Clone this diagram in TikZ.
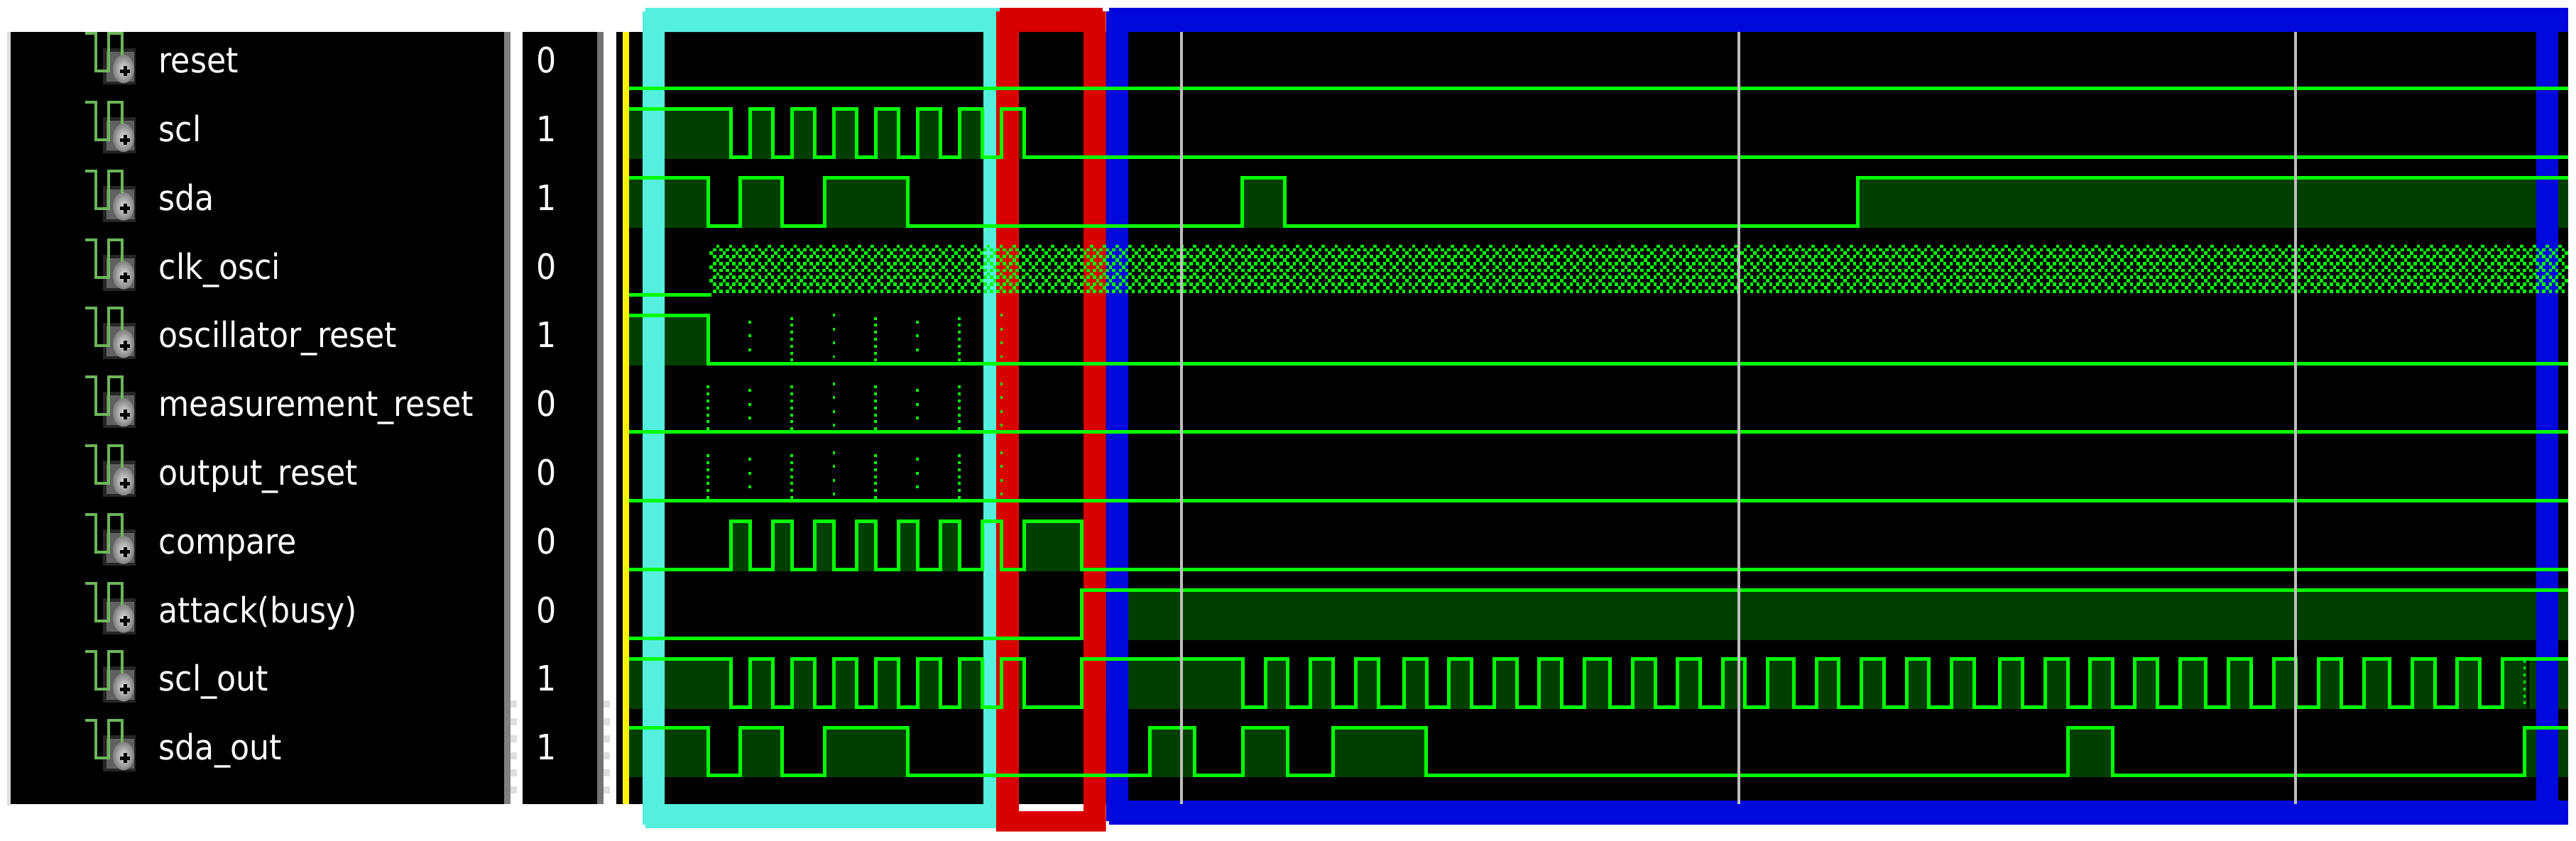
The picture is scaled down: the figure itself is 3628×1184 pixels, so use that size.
\documentclass[tikz,border=0pt]{standalone}
\usepackage{fontspec}
\setmainfont{DejaVu Sans Condensed}
\usepackage{xcolor}
\usetikzlibrary{calc}
\definecolor{sigbright}{HTML}{00FF00}
\definecolor{sigdark}{HTML}{003F00}
\definecolor{frameone}{HTML}{55EFDD}
\definecolor{frametwo}{HTML}{D90000}
\definecolor{framethree}{HTML}{0009DC}
\definecolor{iconline}{HTML}{6DB55C}
\tikzset{
    sigline/.style={draw=sigbright, line width=0.05cm, line join=miter},
    sigbody/.style={fill=sigdark},
    sigdots/.style={draw=sigbright, line width=0.036cm},
    cursorline/.style={draw=black!25, line width=0.046cm},
    signame/.style={anchor=base west, text=white, inner sep=0pt, font=\fontsize{14}{15}\selectfont},
    sigvalue/.style={anchor=base, text=white, inner sep=0pt, font=\fontsize{14}{15}\selectfont}
}
\def\sclp{880/1029,1056/1088.5,1115/1147.6,1174.6/1206,1233/1265,1292/1324,1351/1383.5,1410.5/1442}
\def\cmpp{1029/1056,1088/1115,1147.6/1174.6,1206/1233,1265/1292,1324/1351,1383.5/1410.5,1442/1523.6}
\def\sdap{880/997,1042.5/1101.7,1161/1278.5,1749/1809.5,2616/3630}
\def\oscp{880/997}
\def\atkp{1523.6/3630}
\def\sclop{880/1029,1056/1088.5,1115/1147.6,1174.6/1206,1233/1265,1292/1324,1351/1383.5,1410.5/1442,
    1523.6/1750,1782/1813.5,1845/1877,1909/1941,1977/2009,2040.5/2072.4,2104/2136,2167.5/2199,2231/2267.6,
    2299.5/2331,2362.6/2394.5,2426/2457.6,2489.5/2526,2558/2589.6,2621.5/2653.4,2685/2716.6,2748.5/2780.5,
    2816.6/2848.5,2880/2912,2943/2975,3006.5/3038.5,3070.4/3106.5,3138.5/3170,3202/3233.7,3265/3297,
    3329/3365,3397/3429,3460/3492,3524/3630}
\def\sdaop{880/997,1042.5/1101.7,1161/1278.5,1619/1682.6,1750/1813.5,1877/2008.7,2912/2975,3555.6/3630}
\newcommand{\sigfill}[2]{\foreach \a/\b in #2 {\fill[sigbody] (\a,#1-67.5) rectangle (\b,#1+2.5);}}
\newcommand{\sigwave}[2]{\draw[sigline] (880,#1) \foreach \a/\b in #2 {-| (\a,#1-67.5) -| (\b,#1)} -- (3630,#1);}
\begin{document}
\begin{tikzpicture}[x=0.01cm, y=-0.01cm]
    \useasboundingbox (0,0) rectangle (3628,1184);
    % panels
    \fill[black!13] (10,45) rectangle (15,1135);
    \fill[black] (15,45) rectangle (710,1133);
    \fill[black!50] (710,45) rectangle (719,1133);
    \fill[black] (736,45) rectangle (841,1133);
    \fill[black!55] (841,45) rectangle (850,1133);
    \fill[black] (868,45) rectangle (3617,1133);
    \foreach \y in {992,1017,1041,1065,1089,1113} {
        \fill[black!13] (719,\y-5) rectangle (728,\y+5);
        \fill[black!13] (850,\y-5) rectangle (859,\y+5);
    }
    % names, values, icons
    \foreach \i/\sname/\sval in {0/reset/0,1/scl/1,2/sda/1,3/clk\_osci/0,4/oscillator\_reset/1,
        5/measurement\_reset/0,6/output\_reset/0,7/compare/0,8/attack(busy)/0,9/scl\_out/1,10/sda\_out/1} {
        \node[signame] (name\i) at (223,102.6+\i*96.8) {\sname};
        \node[sigvalue] (value\i) at (770,102.6+\i*96.8) {\sval};
        \begin{scope}
            \clip (15,45) rectangle (710,1133);
            \begin{scope}[shift={(0,\i*96.8-96.8)}]
                \fill[black!85] (145,165) rectangle (191,216);
                \fill[black!62] (150,170) rectangle (189,212);
                \shade[inner color=black!12, outer color=black!50] (174,194) ellipse (15 and 20);
                \draw[black, line width=0.05cm] (169,197) -- (183,197) (176,190) -- (176,204);
                \draw[iconline, line width=0.04cm] (120,144) -- (135,144) -- (135,197) -- (153,197) -- (153,144) -- (172,144) -- (172,175);
            \end{scope}
        \end{scope}
    }
    % bodies of the high levels
    \sigfill{221}{\sclp}
    \sigfill{318}{\sdap}
    \sigfill{512}{\oscp}
    \sigfill{802}{\cmpp}
    \sigfill{899}{\atkp}
    \sigfill{996}{\sclop}
    \sigfill{1092.5}{\sdaop}
    \fill[black] (3559,931) rectangle (3562,998);
    \fill[white] (3617,45) rectangle (3628,1133);
    % frames
    \fill[frameone] (909,11) rectangle (1408,16);
    \fill[frameone] (909,1162) rectangle (1403,1167);
    \fill[frameone, even odd rule] (905,16) rectangle (1403,1162) (936,45) rectangle (1385,1133);
    \fill[frametwo] (1408,11) rectangle (1553,16);
    \fill[frametwo, even odd rule] (1403,16) rectangle (1557.5,1171.5) (1435,45) rectangle (1526,1143);
    \fill[framethree] (1562,11) rectangle (3617,16);
    \fill[framethree] (1557.5,16) rectangle (3617,45);
    \fill[framethree] (1557.5,45) rectangle (1589,1128);
    \fill[framethree] (3572,45) rectangle (3603,1128);
    \fill[framethree] (1557.5,1128) rectangle (3617,1157);
    \fill[framethree] (1562,1157) rectangle (3617,1162);
    % signals on top of the frames
    \begin{scope}
        \clip (868,45) rectangle (3617,1133);
        \draw[sigline] (880,124.5) -- (3630,124.5);
        \sigwave{221}{\sclp}
        \sigwave{318}{\sdap}
        \draw[sigline] (880,415) -- (1002,415);
        \sigwave{512}{\oscp}
        \draw[sigline] (880,608.5) -- (3630,608.5);
        \draw[sigline] (880,705.5) -- (3630,705.5);
        \sigwave{802}{\cmpp}
        \sigwave{899}{\atkp}
        \sigwave{996}{\sclop}
        \sigwave{1092.5}{\sdaop}
        % clk_osci toggles too fast to resolve
        \foreach \y in {351.8,361.6,371.3,381,390.7,400.5,410.2} {
            \draw[sigbright, line width=0.046cm, dash pattern=on 0.046cm off 0.04467cm] (1004,\y) -- (3630,\y);
        }
        \foreach \y in {347,366.5,385.9,405.3} {
            \draw[sigbright, line width=0.046cm, dash pattern=on 0.046cm off 0.13533cm] (1008.7,\y) -- (3630,\y);
        }
        \foreach \y in {356.7,376.2,395.6} {
            \draw[sigbright, line width=0.046cm, dash pattern=on 0.046cm off 0.13533cm] (999.4,\y) -- (3630,\y);
        }
        % glitches on the reset lines
        \foreach \r in {0,96.8,193.6} {
            \foreach \x in {997,1115,1233,1351} {
                \draw[sigdots, dash pattern=on 0.04cm off 0.058cm] (\x,446.5+\r) -- (\x,509+\r);
            }
            \foreach \x in {1056,1292} {
                \draw[sigdots, dash pattern=on 0.04cm off 0.155cm] (\x,451.5+\r) -- (\x,494.5+\r);
            }
            \foreach \x in {1174.6,1410.5} {
                \draw[sigdots, dash pattern=on 0.04cm off 0.155cm] (\x,442+\r) -- (\x,504+\r);
            }
        }
        \draw[sigdots, dash pattern=on 0.04cm off 0.058cm] (3555.6,929.5) -- (3555.6,992.5);
    \end{scope}
    % cursors
    \foreach \x in {1664,2449,3233} {
        \draw[cursorline] (\x,45) -- (\x,1133);
    }
    \fill[yellow] (877,45) rectangle (886,1133);
\end{tikzpicture}
\end{document}
